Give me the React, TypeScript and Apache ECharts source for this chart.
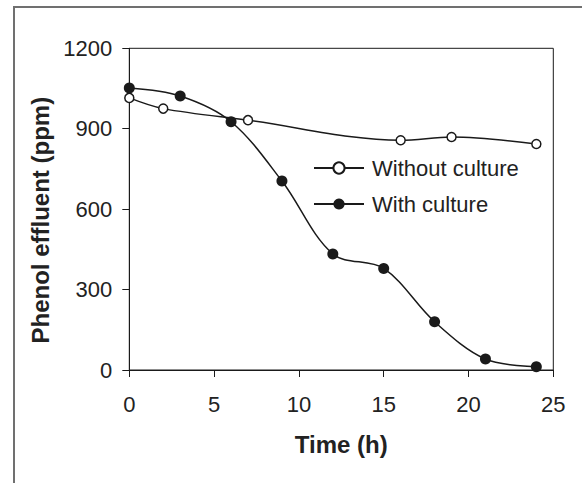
import React, { useEffect, useRef } from "react";
import * as echarts from "echarts";

const withoutTime = [0, 2, 7, 16, 19, 24];
const withoutValues = [1015, 975, 932, 857, 869, 843];
const withTime = [0, 3, 6, 9, 12, 15, 18, 21, 24];
const withValues = [1052, 1022, 926, 705, 433, 379, 180, 41, 12];
const seriesNames = ["Without culture", "With culture"];
const xTitle = "Time (h)";
const yTitle = "Phenol effluent (ppm)";

const FONT = "'Liberation Sans', Arial, sans-serif";

export default function App() {
  const ref = useRef<HTMLDivElement>(null);
  useEffect(() => {
    if (!ref.current) return;
    const chart = echarts.init(ref.current, undefined, { renderer: "svg" });
    const ink = "#1a1a1a";
    chart.setOption({
      animation: false,
      backgroundColor: "#ffffff",
      textStyle: { fontFamily: FONT },
      graphic: [
        {
          type: "polyline",
          shape: { points: [[14, 483], [14, 7], [582, 7]] },
          style: { stroke: "#707070", lineWidth: 2, fill: null },
          silent: true,
        },
      ],
      grid: {
        left: 129.3,
        right: 28.7,
        top: 48.3,
        bottom: 113,
        show: true,
        borderColor: ink,
        borderWidth: 1,
        backgroundColor: "transparent",
      },
      legend: {
        orient: "vertical",
        left: 313,
        top: 157,
        padding: 0,
        itemWidth: 50,
        itemHeight: 14,
        itemGap: 14,
        data: seriesNames,
        textStyle: { fontFamily: FONT, fontSize: 22, color: "#222", padding: [0, 0, 0, 3] },
      },
      xAxis: {
        type: "value",
        min: 0,
        max: 25,
        interval: 5,
        name: xTitle,
        nameLocation: "middle",
        nameGap: 62,
        nameTextStyle: { fontFamily: FONT, fontSize: 24, fontWeight: "bold", color: "#222" },
        axisLine: { show: true, lineStyle: { color: ink, width: 1 } },
        axisTick: { show: true, inside: false, length: 7, lineStyle: { color: ink } },
        axisLabel: { fontFamily: FONT, fontSize: 22, color: "#222", margin: 23 },
        splitLine: { show: false },
      },
      yAxis: {
        type: "value",
        min: 0,
        max: 1200,
        interval: 300,
        name: yTitle,
        nameLocation: "middle",
        nameGap: 76,
        nameTextStyle: {
          fontFamily: FONT,
          fontSize: 24,
          fontWeight: "bold",
          color: "#222",
          padding: [0, 22, 0, 0],
        },
        axisLine: { show: true, lineStyle: { color: ink, width: 1 } },
        axisTick: { show: true, inside: false, length: 7, lineStyle: { color: ink } },
        axisLabel: {
          fontFamily: FONT,
          fontSize: 22,
          color: "#222",
          margin: 17,
          formatter: (v: number) => String(v),
        },
        splitLine: { show: false },
      },
      series: [
        {
          name: seriesNames[0],
          type: "line",
          data: withoutTime.map((t, i) => [t, withoutValues[i]]),
          smooth: 0.34,
          symbol: "circle",
          symbolSize: 9,
          showAllSymbol: true,
          lineStyle: { color: ink, width: 1.5 },
          itemStyle: { color: "#ffffff", borderColor: ink, borderWidth: 1.5 },
          z: 3,
        },
        {
          name: seriesNames[1],
          type: "line",
          data: withTime.map((t, i) => [t, withValues[i]]),
          smooth: 0.34,
          symbol: "circle",
          symbolSize: 11,
          showAllSymbol: true,
          lineStyle: { color: ink, width: 1.5 },
          itemStyle: { color: ink, borderColor: ink, borderWidth: 0 },
          z: 4,
        },
      ],
    });
    return () => chart.dispose();
  }, []);
  return (
    <div
      ref={ref}
      style={{ position: "fixed", left: 0, top: 0, width: 582, height: 483, background: "#fff" }}
    />
  );
}
